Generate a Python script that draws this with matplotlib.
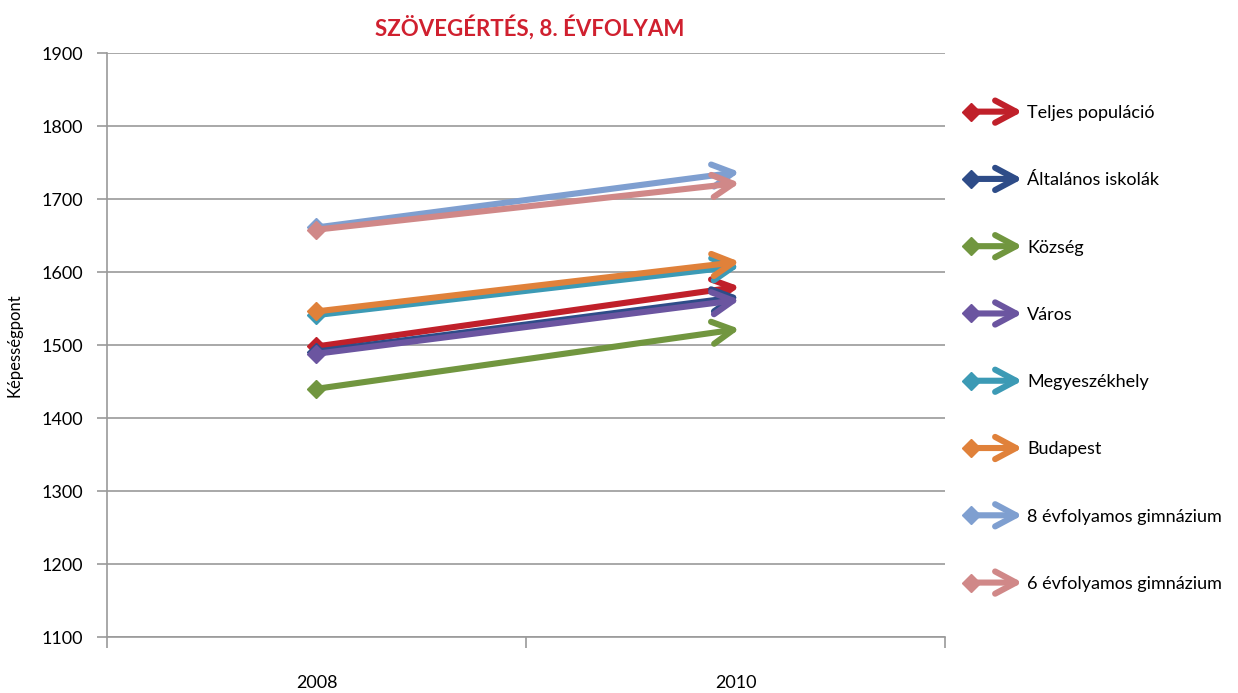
import matplotlib
matplotlib.use("Agg")
import matplotlib.pyplot as plt
from matplotlib.patches import FancyArrowPatch
from matplotlib.lines import Line2D
from matplotlib.legend_handler import HandlerBase

plt.rcParams['font.family'] = ['Lato', 'DejaVu Sans']

years = ["2008", "2010"]
groups = ["Teljes populáció", "Általános iskolák", "Község", "Város",
          "Megyeszékhely", "Budapest", "8 évfolyamos gimnázium",
          "6 évfolyamos gimnázium"]
score_2008 = [1498, 1491, 1440, 1488, 1541, 1546, 1661, 1658]
score_2010 = [1580, 1566, 1522, 1562, 1608, 1614, 1737, 1722]
colors = ["#C0202A", "#2E4C88", "#71963F", "#6B55A0",
          "#3C9AB5", "#E0813A", "#7F9FD0", "#D08888"]
# drawing order (last on top)
draw_order = [1, 3, 2, 4, 5, 6, 7, 0]

ARROW = '->,head_length=1.5,head_width=0.8'
LW = 4.4


class ArrowHandler(HandlerBase):
    def create_artists(self, legend, orig_handle, xdescent, ydescent,
                       width, height, fontsize, trans):
        c = orig_handle.get_color()
        y = height / 2 - ydescent
        x0 = -xdescent
        arr = FancyArrowPatch((x0, y), (x0 + width, y), arrowstyle=ARROW,
                              mutation_scale=10, lw=LW, color=c,
                              capstyle='round', joinstyle='round',
                              shrinkA=0, shrinkB=0, transform=trans)
        m = Line2D([x0 + 2], [y], marker='D', ms=9, color=c,
                   linestyle='none', transform=trans)
        return [arr, m]


fig = plt.figure(figsize=(12.38, 6.93), dpi=100)
ax = fig.add_axes([0.0864, 0.0808, 0.6769, 0.8427])

for i in draw_order:
    c = colors[i]
    ax.annotate('', xy=(1.01, score_2010[i]), xytext=(0, score_2008[i]),
                arrowprops=dict(arrowstyle=ARROW, lw=LW, color=c,
                                shrinkA=0, shrinkB=0, capstyle='round',
                                joinstyle='round', mutation_scale=10),
                zorder=3 + i)
    ax.plot([0], [score_2008[i]], marker='D', ms=9.5, color=c,
            linestyle='none', zorder=3 + i)

ax.set_xlim(-0.5, 1.5)
ax.set_ylim(1100, 1900)
ax.set_yticks(range(1100, 2000, 100))
ax.grid(axis='y', color='#9a9a9a', lw=1.2)
ax.set_axisbelow(True)

ax.set_xticks([0, 1])
ax.set_xticklabels(years)
ax.set_xticks([-0.5, 0.5, 1.5], minor=True)
ax.tick_params(axis='x', which='major', length=0, pad=27, labelsize=13)
ax.tick_params(axis='x', which='minor', length=8, color='#9a9a9a', width=1.2)
ax.tick_params(axis='y', length=7, color='#9a9a9a', width=1.2,
               labelsize=13, pad=10)

for s in ['top', 'right']:
    ax.spines[s].set_visible(False)
for s in ['left', 'bottom']:
    ax.spines[s].set_color('#9a9a9a')
    ax.spines[s].set_linewidth(1.2)

ax.set_ylabel("Képességpont", fontsize=12, labelpad=14)
fig.text(0.428, 0.961, "SZÖVEGÉRTÉS, 8. ÉVFOLYAM", color="#D0202F",
         fontsize=16, fontweight='bold', ha='center', va='center')

handles = [Line2D([], [], color=c) for c in colors]
fig.legend(handles, groups, handler_map={Line2D: ArrowHandler()},
           loc='upper left', bbox_to_anchor=(0.769, 0.872), frameon=False,
           fontsize=13, handlelength=3.0, handletextpad=0.25,
           labelspacing=2.84)

fig.savefig("out.png", dpi=100)
